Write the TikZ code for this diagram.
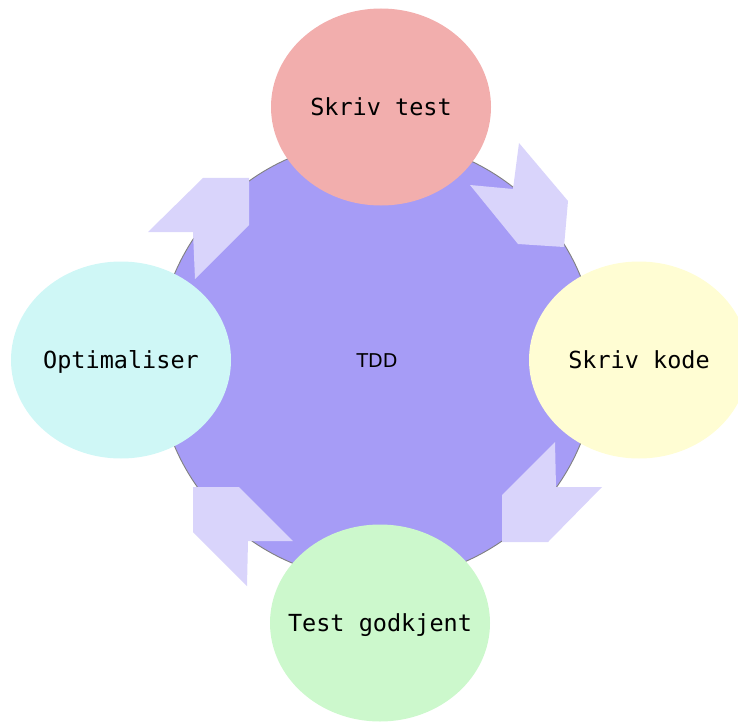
\documentclass[tikz,border=0pt]{standalone}
\usepackage{fontspec}
\newfontfamily\monof{DejaVu Sans Mono}
\newfontfamily\sansf{DejaVu Sans}
\usetikzlibrary{shapes.geometric}
\definecolor{hub}{HTML}{A69CF6}
\definecolor{arr}{HTML}{D9D4FB}
\definecolor{pinkc}{HTML}{F2AEAD}
\definecolor{yelc}{HTML}{FFFDD3}
\definecolor{grnc}{HTML}{CCF8CC}
\definecolor{cyac}{HTML}{CFF7F6}
\tikzset{
  stage/.style={ellipse, draw=none, minimum width=220pt, minimum height=197pt,
    inner sep=0pt},
  stagetext/.style={font=\monof\fontsize{23.5}{26}\selectfont,
    text height=17pt, text depth=0pt, inner sep=0pt},
  cyclearrow/.style={fill=arr, draw=none},
}
\begin{document}
\begin{tikzpicture}[x=1pt,y=-1pt]
\useasboundingbox (0,0) rectangle (738,722);
\node[circle, fill=hub, draw=gray, line width=0.9pt, minimum size=440pt, inner sep=0pt,
  font=\sansf\fontsize{19}{22}\selectfont, text height=14pt, text depth=0pt] (tdd) at (377,360) {TDD};
\node[stage, fill=pinkc] (skrivtest) at (381,107) {};
\node[stagetext] (skrivtestlbl) at (skrivtest.center) {Skriv test};
\node[stage, fill=yelc] (skrivkode) at (639,360) {};
\node[stagetext] (skrivkodelbl) at (skrivkode.center) {Skriv kode};
\node[stage, fill=grnc] (godkjent) at (380,623) {};
\node[stagetext] (godkjentlbl) at (godkjent.center) {Test godkjent};
\node[stage, fill=cyac] (optim) at (121,360) {};
\node[stagetext] (optimlbl) at (optim.center) {Optimaliser};
% cycle arrows
\fill[cyclearrow] (519,143) -- (568,201) -- (564,247) -- (518,244) -- (470,185) -- (513,189) -- cycle;
\fill[cyclearrow] (555,442) -- (556,487) -- (602,487) -- (548,542) -- (502,542) -- (502,495) -- cycle;
\fill[cyclearrow] (193,487) -- (239,487) -- (293,541) -- (248,541) -- (247,586) -- (193,532) -- cycle;
\fill[cyclearrow] (203,178) -- (249,178) -- (249,225) -- (195,279) -- (193,232) -- (148,232) -- cycle;
\end{tikzpicture}
\end{document}
